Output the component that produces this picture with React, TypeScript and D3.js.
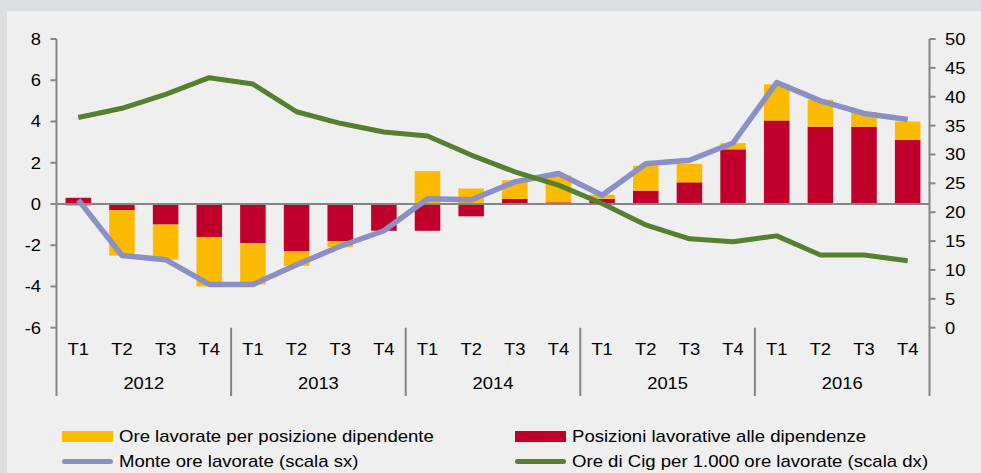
import React from "react";
import * as d3 from "d3";

const years = ["2012", "2013", "2014", "2015", "2016"];
const quarters = ["T1", "T2", "T3", "T4"];
const categories = years.flatMap((y) => quarters.map((q) => `${q} ${y}`));

// Posizioni lavorative alle dipendenze (red)
const posizioni = [0.3, -0.3, -1.0, -1.6, -1.9, -2.3, -1.8, -1.3, -1.3, -0.6, 0.25, 0.08, 0.25, 0.65, 1.05, 2.65, 4.05, 3.75, 3.75, 3.1];
// Ore lavorate per posizione dipendente (yellow)
const orePerPosizione = [-0.1, -2.2, -1.7, -2.4, -2.0, -0.7, -0.3, 0.0, 1.6, 0.75, 0.9, 1.3, 0.2, 1.2, 0.9, 0.3, 1.75, 1.3, 0.7, 0.9];
// Monte ore lavorate (scala sx)
const monteOre = [0.2, -2.5, -2.7, -3.9, -3.9, -2.95, -2.05, -1.3, 0.25, 0.2, 1.07, 1.48, 0.42, 1.95, 2.12, 2.96, 5.89, 5.0, 4.39, 4.1];
// Ore di Cig per 1.000 ore lavorate (scala dx)
const cig = [36.4, 38.0, 40.4, 43.3, 42.2, 37.4, 35.4, 33.9, 33.2, 29.9, 27.0, 24.7, 21.5, 17.8, 15.4, 14.9, 15.9, 12.6, 12.6, 11.6];

const leftTicks = [-6, -4, -2, 0, 2, 4, 6, 8];
const rightTicks = [0, 5, 10, 15, 20, 25, 30, 35, 40, 45, 50];

const legendItems = [
  { label: "Ore lavorate per posizione dipendente", kind: "rect", color: "#fcbb00" },
  { label: "Posizioni lavorative alle dipendenze", kind: "rect", color: "#c0002a" },
  { label: "Monte ore lavorate (scala sx)", kind: "line", color: "#8a8fc4" },
  { label: "Ore di Cig per 1.000 ore lavorate (scala dx)", kind: "line", color: "#538130" },
];

const W = 981;
const H = 473;
const FONT = "'Liberation Sans', Arial, sans-serif";

type TProps = { x: number; y: number; anchor?: string; sx?: number; size?: number; dy?: string; children: React.ReactNode };
function T({ x, y, anchor = "start", sx = 1.08, size = 17, dy = "0", children }: TProps) {
  return (
    <text transform={`translate(${x},${y}) scale(${sx},1)`} dy={dy} textAnchor={anchor} fontSize={size} fill="#000">
      {children}
    </text>
  );
}

export default function App() {
  const x0 = 56.5;
  const x1 = 929.5;
  const yTop = 39;
  const yBot = 327.7;

  const x = d3
    .scaleBand<number>()
    .domain(d3.range(categories.length))
    .range([x0, x1])
    .paddingInner(0.415)
    .paddingOuter(0.2075);
  const yL = d3.scaleLinear().domain([-6, 8]).range([yBot, yTop]);
  const yR = d3.scaleLinear().domain([0, 50]).range([yBot, yTop]);
  const center = (i: number) => (x(i) as number) + x.bandwidth() / 2;

  const lineL = d3
    .line<number>()
    .x((_, i) => center(i))
    .y((d) => yL(d));
  const lineR = d3
    .line<number>()
    .x((_, i) => center(i))
    .y((d) => yR(d));

  // diverging stack: red first, then yellow
  const bars: { x: number; y: number; h: number; color: string }[] = [];
  categories.forEach((_, i) => {
    let pos = 0;
    let neg = 0;
    const parts = [
      { v: posizioni[i], color: "#c0002a" },
      { v: orePerPosizione[i], color: "#fcbb00" },
    ];
    parts.forEach((p) => {
      if (p.v >= 0) {
        const a = yL(pos + p.v);
        const b = yL(pos);
        bars.push({ x: x(i) as number, y: a, h: b - a, color: p.color });
        pos += p.v;
      } else {
        const a = yL(neg);
        const b = yL(neg + p.v);
        bars.push({ x: x(i) as number, y: a, h: b - a, color: p.color });
        neg += p.v;
      }
    });
  });

  const step = x.step();
  const yearBounds = d3.range(years.length + 1).map((k) => x0 + k * step * 4);
  const axisColor = "#858585";

  return (
    <div style={{ position: "fixed", left: 0, top: 0 }}>
      <svg width={W} height={H} style={{ display: "block", fontFamily: FONT }}>
        <rect x={0} y={0} width={W} height={H} fill="#dcdddf" />
        <rect x={7} y={11} width={W - 7} height={H - 11} fill="#efefef" />

        {bars.map((b, i) => (
          <rect key={i} x={b.x} y={b.y} width={x.bandwidth()} height={b.h} fill={b.color} />
        ))}

        {/* zero line */}
        <line x1={x0} x2={x1} y1={yL(0)} y2={yL(0)} stroke={axisColor} strokeWidth={2} />

        {/* left axis */}
        <line x1={x0} x2={x0} y1={yTop} y2={396} stroke={axisColor} strokeWidth={2} />
        {leftTicks.map((t) => (
          <g key={t}>
            <line x1={x0 - 6} x2={x0} y1={yL(t)} y2={yL(t)} stroke={axisColor} strokeWidth={2} />
            <T x={41} y={yL(t)} dy="0.35em" anchor="end">
              {t}
            </T>
          </g>
        ))}

        {/* right axis */}
        <line x1={x1} x2={x1} y1={yTop} y2={396} stroke={axisColor} strokeWidth={2} />
        {rightTicks.map((t) => (
          <g key={t}>
            <line x1={x1} x2={x1 + 6} y1={yR(t)} y2={yR(t)} stroke={axisColor} strokeWidth={2} />
            <T x={945} y={yR(t)} dy="0.35em">
              {t}
            </T>
          </g>
        ))}

        {/* year separators */}
        {yearBounds.slice(1, -1).map((b, i) => (
          <line key={i} x1={b} x2={b} y1={yBot} y2={396} stroke={axisColor} strokeWidth={2} />
        ))}

        {/* category labels */}
        {categories.map((c, i) => (
          <T key={c} x={center(i)} y={355} anchor="middle">
            {quarters[i % 4]}
          </T>
        ))}
        {years.map((yv, k) => (
          <T key={yv} x={(yearBounds[k] + yearBounds[k + 1]) / 2} y={389} anchor="middle">
            {yv}
          </T>
        ))}

        {/* lines */}
        <path d={lineL(monteOre) || ""} fill="none" stroke="#8a8fc4" strokeWidth={5.5} strokeLinejoin="round" />
        <path d={lineR(cig) || ""} fill="none" stroke="#538130" strokeWidth={5} strokeLinejoin="round" />

        {/* legend */}
        {legendItems.map((it, i) => {
          const lx = i % 2 === 0 ? 62 : 515;
          const ly = i < 2 ? 436.5 : 461.5;
          return (
            <g key={it.label}>
              {it.kind === "rect" ? (
                <rect x={lx} y={ly - 5.5} width={51} height={11} fill={it.color} />
              ) : (
                <line x1={lx + 2.5} x2={lx + 48.5} y1={ly} y2={ly} stroke={it.color} strokeWidth={5} strokeLinecap="round" />
              )}
              <T x={lx + 57} y={ly} dy="0.35em" sx={1.093}>
                {it.label}
              </T>
            </g>
          );
        })}
      </svg>
    </div>
  );
}
